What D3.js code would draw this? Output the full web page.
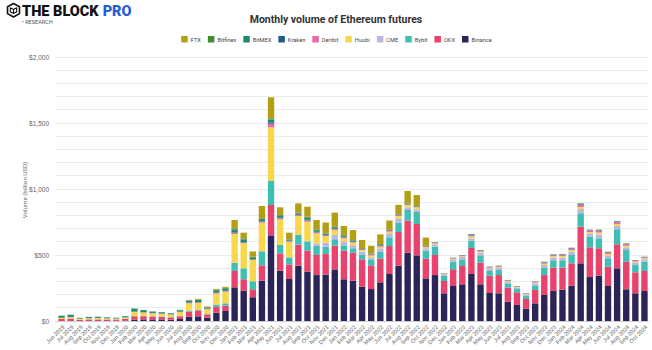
<!DOCTYPE html>
<html><head><meta charset="utf-8">
<script src="https://cdn.jsdelivr.net/npm/d3@7"></script>
<style>
html,body{margin:0;padding:0;background:#fff;}
svg{display:block;font-family:Roboto,"Open Sans",sans-serif;}
</style></head>
<body>
<svg id="chart" width="652" height="350"></svg>
<script>
// ---- DATA (billion USD) ----
const months = ["Jun 2019","Jul 2019","Aug 2019","Sep 2019","Oct 2019","Nov 2019","Dec 2019",
"Jan 2020","Feb 2020","Mar 2020","Apr 2020","May 2020","Jun 2020","Jul 2020","Aug 2020","Sep 2020","Oct 2020","Nov 2020","Dec 2020",
"Jan 2021","Feb 2021","Mar 2021","Apr 2021","May 2021","Jun 2021","Jul 2021","Aug 2021","Sep 2021","Oct 2021","Nov 2021","Dec 2021",
"Jan 2022","Feb 2022","Mar 2022","Apr 2022","May 2022","Jun 2022","Jul 2022","Aug 2022","Sep 2022","Oct 2022","Nov 2022","Dec 2022",
"Jan 2023","Feb 2023","Mar 2023","Apr 2023","May 2023","Jun 2023","Jul 2023","Aug 2023","Sep 2023","Oct 2023","Nov 2023","Dec 2023",
"Jan 2024","Feb 2024","Mar 2024","Apr 2024","May 2024","Jun 2024","Jul 2024","Aug 2024","Sep 2024","Oct 2024"];

const legendOrder = ["FTX","Bitfinex","BitMEX","Kraken","Deribit","Huobi","CME","Bybit","OKX","Binance"];

const binance = [0,0,0,0,0,0,1, 4,10,12,12,12,10,15,33,35,25,63,76, 255,230,180,305,649,381,318,419,374,348,351,391,
 316,305,260,242,293,356,419,517,497,323,348,210, 265,278,356,278,212,210,146,121,93,134,197,227, 237,267,437,333,343,265,399,240,210,227];
const okx = [15,18,8,12,12,11,10, 12,25,24,22,20,17,20,38,45,25,45,40, 124,86,60,117,230,132,111,159,159,152,157,180,
 217,212,207,180,179,212,255,243,238,149,152,93, 127,139,197,164,131,138,107,96,74,101,151,177, 167,170,278,225,208,146,182,209,159,152];
const bybit = [0,0,0,0,0,0,0, 1,3,3,2,2,2,3,8,7,6,17,18, 63,83,61,106,182,63,53,76,68,68,55,48,
 40,34,33,45,53,66,71,81,91,61,63,38, 57,50,55,55,36,38,32,25,22,35,56,56, 56,63,101,81,75,64,114,89,55,70];
const cme = [0,0,0,0,0,0,0, 0,0,0,0,0,0,0,0,0,0,0,0, 0,0,0,0,0,0,0,0,5,20,30,33,
 30,23,25,15,25,30,33,20,20,18,18,8, 18,18,18,20,18,18,13,10,10,15,20,20, 20,25,33,25,30,20,25,20,18,18];
const huobi = [8,10,9,9,10,8,7, 9,30,25,22,20,20,30,55,50,33,83,88, 217,190,161,217,406,194,119,141,146,76,50,38,
 23,20,13,15,13,13,18,18,15,8,6,5, 5,6,14,8,6,6,5,5,6,6,10,10, 12,12,15,10,14,12,14,12,8,8];
const deribit = [1,2,1,1,1,1,1, 1,3,2,2,2,1,2,4,5,3,5,5, 8,5,4,8,28,8,5,7,10,8,6,7,
 8,7,6,6,8,5,5,5,4,4,4,3, 4,4,9,6,5,5,4,4,4,5,8,8, 9,10,16,11,14,11,15,11,7,7];
const kraken = [1,1,0,1,1,1,0, 1,1,1,1,1,1,1,2,2,1,2,2, 3,3,2,3,10,5,3,4,5,4,3,4,
 4,4,3,3,4,3,3,3,2,2,2,1, 1,2,3,2,1,1,1,1,1,1,2,2, 2,3,4,2,3,2,3,2,1,1];
const bitmex = [13,15,5,7,8,6,5, 8,20,15,10,9,7,10,14,16,9,18,18, 22,20,14,16,22,15,8,10,16,12,8,10,
 10,6,4,4,6,3,3,3,3,3,2,2, 2,2,5,3,2,2,2,2,1,2,3,3, 3,3,5,3,3,3,4,3,3,3];
const bitfinex = [2,2,1,1,1,1,1, 1,3,2,2,2,1,2,3,3,2,4,4, 10,9,5,6,8,5,2,4,7,6,3,4,
 4,2,2,2,2,2,2,2,1,1,1,1, 1,1,2,2,1,1,1,1,1,1,2,2, 2,2,3,2,2,2,2,2,1,1];
const ftx = [0,0,0,0,0,0,0, 0,0,0,0,0,0,2,3,5,6,6,8, 63,43,40,93,160,58,50,71,76,71,83,106,
 68,76,61,58,73,71,71,93,83,63,2,0, 0,0,0,0,0,0,0,0,0,0,0,0, 0,0,0,0,0,0,0,0,0,0];

const yTicks = [0,500,1000,1500,2000];
const yTickLabels = ["$0","$500","$1,000","$1,500","$2,000"];

const colors = {FTX:"#b39e14",Bitfinex:"#3f8e2c",BitMEX:"#1f8b73",Kraken:"#1e5d8b",Deribit:"#e96aa9",
  Huobi:"#f8d74c",CME:"#bcb6e2",Bybit:"#3fbfb3",OKX:"#e8436c",Binance:"#2b2459"};

const seriesData = {FTX:ftx,Bitfinex:bitfinex,BitMEX:bitmex,Kraken:kraken,Deribit:deribit,Huobi:huobi,
  CME:cme,Bybit:bybit,OKX:okx,Binance:binance};

// ---- BUILD ----
const svg = d3.select("#chart");
const table = months.map((m,i)=>{const r={month:m}; legendOrder.forEach(k=>r[k]=seriesData[k][i]); return r;});
const stackKeys = legendOrder.slice().reverse(); // Binance bottom
const stacked = d3.stack().keys(stackKeys)(table);

const x = d3.scaleBand().domain(months).range([57,649]).paddingInner(0.3).paddingOuter(0.15);
const y = d3.scaleLinear().domain([0,2000]).range([321,57]);

// gridlines every 100
const grid = svg.append("g");
d3.range(0,2001,100).forEach(v=>{
  grid.append("line").attr("x1",55).attr("x2",649).attr("y1",y(v)).attr("y2",y(v))
    .attr("stroke", v===0 ? "#cfcfcf" : "#ececec").attr("stroke-width",1).attr("shape-rendering","crispEdges");
});

// y labels
const yAxis = d3.axisLeft(y).tickValues(yTicks).tickFormat((d,i)=>yTickLabels[i]).tickSize(0).tickPadding(3);
const ya = svg.append("g").attr("transform","translate(52,0)").call(yAxis);
ya.select(".domain").remove();
ya.selectAll("text").attr("font-size",6.5).attr("fill","#666");

// y title
svg.append("text").attr("transform","translate(27,190) rotate(-90)").attr("text-anchor","middle")
  .attr("font-size",6.2).attr("fill","#666").text("Volume (billion USD)");

// bars
svg.append("g").selectAll("g").data(stacked).join("g").attr("fill",d=>colors[d.key])
  .selectAll("rect").data(d=>d).join("rect")
  .attr("x",d=>x(d.data.month)).attr("width",x.bandwidth())
  .attr("y",d=>y(d[1])).attr("height",d=>Math.max(0,y(d[0])-y(d[1])));

// x labels
const xAxis = d3.axisBottom(x).tickSize(0).tickPadding(0);
const xa = svg.append("g").attr("transform","translate(0,324)").call(xAxis);
xa.select(".domain").remove();
xa.selectAll("text").attr("font-size",5.7).attr("fill","#666")
  .attr("text-anchor","end").attr("dy","0.35em").attr("dx",0)
  .attr("transform","translate(2,2) rotate(-45)");

// title
svg.append("text").attr("x",336).attr("y",23).attr("text-anchor","middle")
  .attr("font-size",10.5).attr("font-weight","bold").attr("fill","#333")
  .text("Monthly volume of Ethereum futures");

// legend
const lg = svg.append("g");
let lx = 0;
legendOrder.forEach(k=>{
  const g = lg.append("g").attr("transform",`translate(${lx},0)`);
  g.append("rect").attr("x",0).attr("y",36).attr("width",6.5).attr("height",6.5).attr("fill",colors[k]);
  const t = g.append("text").attr("x",9.5).attr("y",41.8).attr("font-size",5.7).attr("fill","#444").text(k);
  lx += 9.5 + t.node().getComputedTextLength() + 7;
});
const lw = lx - 7;
lg.attr("transform",`translate(${336.5 - lw/2},0)`);

// logo
const logo = svg.append("g");
logo.append("path").attr("d","M13.5,3.5 L19.5,6.8 L19.5,13.6 L13.5,17 L7.5,13.6 L7.5,6.8 Z")
  .attr("fill","none").attr("stroke","#111").attr("stroke-width",1.6).attr("stroke-linejoin","round");
logo.append("path").attr("d","M10.3,7.6 L13.5,9.5 L16.7,7.6 M13.5,9.5 L13.5,13.4 M10.3,7.6 L10.3,11.8 L13.5,13.4 L16.7,11.8 L16.7,7.6")
  .attr("fill","none").attr("stroke","#111").attr("stroke-width",1.1);
const t1 = logo.append("text").attr("x",22).attr("y",15.5).attr("font-size",14.5).attr("font-weight",900)
  .attr("fill","#111").text("THE BLOCK");
const w1 = t1.node().getComputedTextLength();
logo.append("text").attr("x",22 + w1 + 4).attr("y",15.5).attr("font-size",14.5).attr("font-weight",900)
  .attr("fill","#1f5fd6").text("PRO");
logo.append("text").attr("x",22).attr("y",24).attr("font-size",5.5).attr("fill","#555").text("• RESEARCH");
</script>
</body></html>
